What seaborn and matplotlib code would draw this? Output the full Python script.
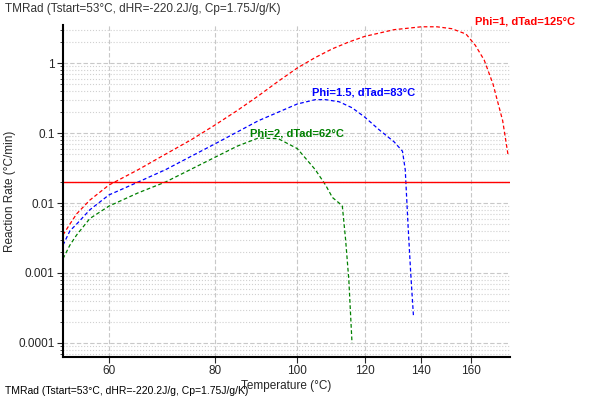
import matplotlib
matplotlib.use("Agg")
import matplotlib.pyplot as plt
import seaborn as sns
import pandas as pd
from matplotlib.ticker import FixedLocator, FixedFormatter, NullFormatter, LogLocator

# curve data (temperature in °C, reaction rate in °C/min)
t_phi1 = [53, 54, 55, 57, 60, 65, 70, 75, 80, 85, 90, 95, 100, 105, 110, 115, 120, 130, 140, 146, 152, 158, 162, 166, 170, 174.5, 177]
r_phi1 = [0.0035, 0.005, 0.007, 0.011, 0.018, 0.03, 0.05, 0.08, 0.13, 0.21, 0.34, 0.55, 0.85, 1.2, 1.6, 2.0, 2.4, 3.0, 3.3, 3.3, 3.1, 2.6, 1.8, 1.1, 0.5, 0.15, 0.05]
t_phi15 = [53, 54, 55, 57, 60, 65, 70, 80, 90, 100, 105, 108, 112, 116, 120, 125, 130, 133, 134, 135, 136, 137]
r_phi15 = [0.0025, 0.004, 0.005, 0.008, 0.013, 0.02, 0.03, 0.07, 0.15, 0.26, 0.3, 0.3, 0.28, 0.23, 0.17, 0.11, 0.075, 0.055, 0.03, 0.005, 0.001, 0.00025]
t_phi2 = [53, 54, 55, 57, 60, 65, 70, 80, 85, 90, 95, 100, 105, 108, 110, 112, 113, 114, 115, 116]
r_phi2 = [0.0016, 0.0025, 0.0035, 0.006, 0.009, 0.014, 0.02, 0.045, 0.065, 0.085, 0.083, 0.06, 0.03, 0.018, 0.012, 0.01, 0.009, 0.003, 0.0008, 0.0001]
threshold = 0.02

series = [
    ("Phi=1, dTad=125°C", t_phi1, r_phi1, "red", (162, 3.9)),
    ("Phi=1.5, dTad=83°C", t_phi15, r_phi15, "blue", (104, 0.38)),
    ("Phi=2, dTad=62°C", t_phi2, r_phi2, "green", (88, 0.1)),
]

sns.set_style("white")
plt.rcParams["font.family"] = ["Liberation Sans", "DejaVu Sans"]
fig = plt.figure(figsize=(6.01, 4.01), dpi=100)
ax = fig.add_axes([63 / 601, 1 - 357 / 401, (510 - 63) / 601, (357 - 25) / 401])

for label, t, r, color, (lx, ly) in series:
    df = pd.DataFrame({"T": t, "rate": r})
    sns.lineplot(data=df, x="T", y="rate", ax=ax, color=color, lw=0.9,
                 linestyle=(0, (3, 2)))
    ax.text(lx, ly, label, color=color, fontsize=8, ha="left", va="center",
            fontweight="bold")

ax.axhline(threshold, color="red", lw=1)

ax.set_xscale("log")
ax.set_yscale("log")
ax.set_xlim(53, 178)
ax.set_ylim(6.3e-5, 3.5)
ax.xaxis.set_major_locator(FixedLocator([60, 80, 100, 120, 140, 160]))
ax.xaxis.set_minor_locator(FixedLocator([]))
ax.xaxis.set_major_formatter(FixedFormatter(["60", "80", "100", "120", "140", "160"]))
ax.xaxis.set_minor_formatter(NullFormatter())
ax.yaxis.set_minor_locator(LogLocator(base=10, subs=range(2, 10), numticks=20))
ax.yaxis.set_minor_formatter(NullFormatter())
ax.set_yticks([0.0001, 0.001, 0.01, 0.1, 1])
ax.set_yticklabels(["0.0001", "0.001", "0.01", "0.1", "1"])

ax.grid(True, which="major", color="#c8c8c8", linestyle=(0, (4, 2)), lw=0.8)
ax.grid(True, which="minor", axis="y", color="#d0d0d0", linestyle=":", lw=0.8)
for s in ["top", "right"]:
    ax.spines[s].set_visible(False)
for s in ["left", "bottom"]:
    ax.spines[s].set_color("black")
    ax.spines[s].set_linewidth(1.5)
ax.tick_params(which="both", direction="out", length=4, labelsize=8.5, left=True, bottom=True, pad=2)
ax.tick_params(which="minor", length=2)

ax.set_xlabel("Temperature (°C)", fontsize=8.5, labelpad=2)
ax.set_ylabel("Reaction Rate (°C/min)", fontsize=8.5, labelpad=2)
fig.text(5 / 601, 1 - 9 / 401, "TMRad (Tstart=53°C, dHR=-220.2J/g, Cp=1.75J/g/K)",
         fontsize=8.5, color="#333333", va="center")
fig.text(5 / 601, 1 - 391 / 401, "TMRad (Tstart=53°C, dHR=-220.2J/g, Cp=1.75J/g/K)",
         fontsize=7.5, color="black", va="center")

fig.savefig("out.png", dpi=100)
